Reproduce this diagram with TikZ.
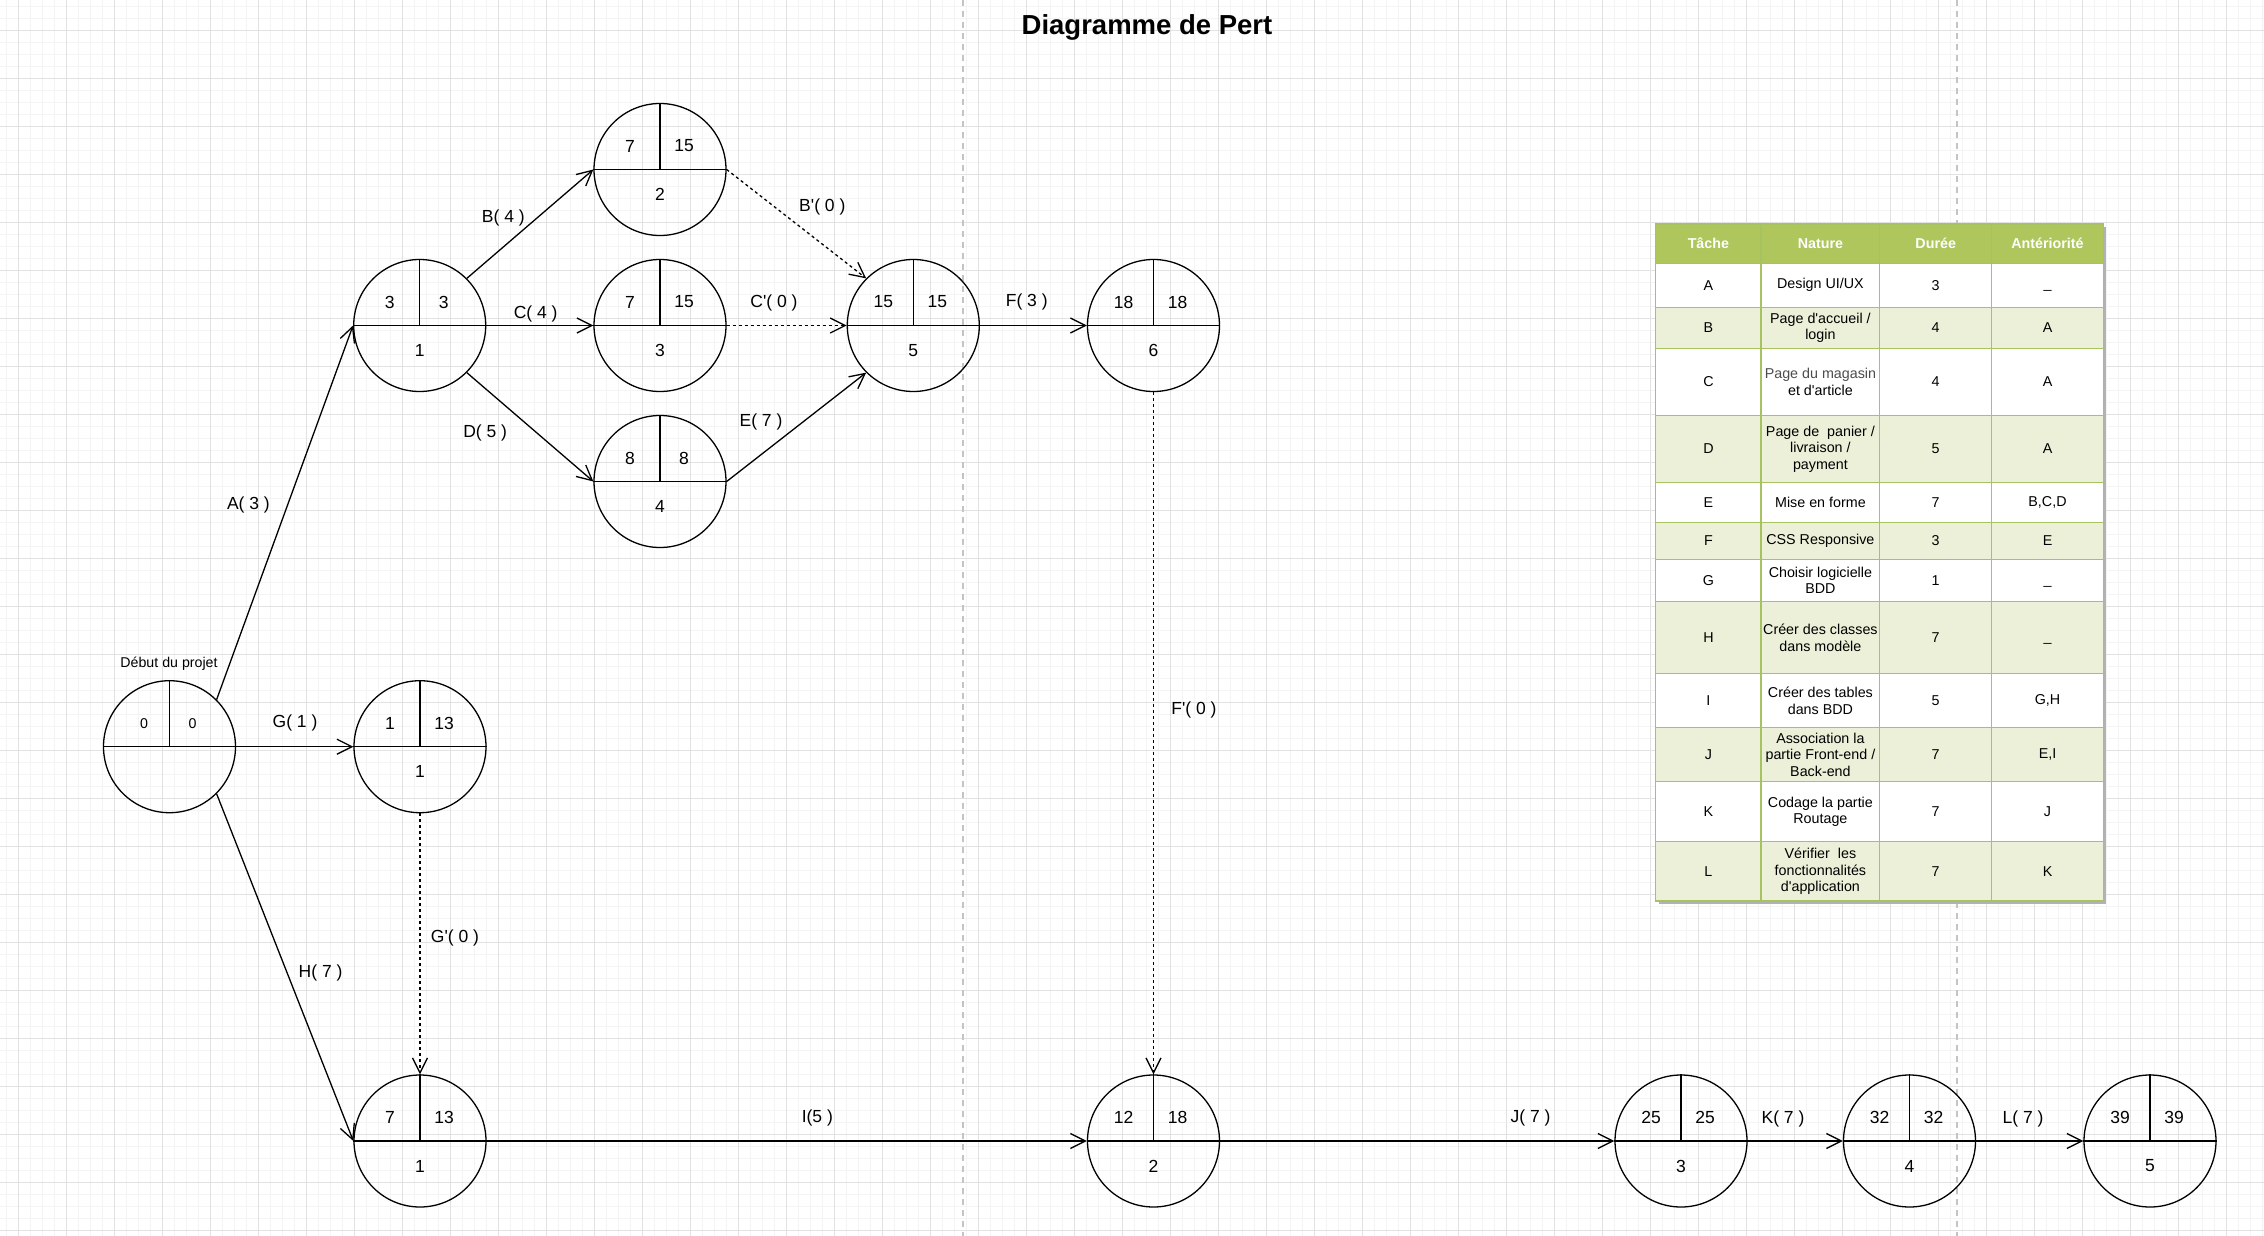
\documentclass[tikz,border=0pt]{standalone}
\usepackage{fontspec}
\setmainfont{Liberation Sans}[Ligatures=TeXOff]
\usetikzlibrary{arrows.meta}

\definecolor{gridmaj}{HTML}{E2E2E2}
\definecolor{gridmin}{HTML}{F4F4F4}
\definecolor{pagebrk}{HTML}{C4C4C4}
\definecolor{tabhead}{HTML}{AEC65C}
\definecolor{tabline}{HTML}{A7C260}
\definecolor{tabrow}{HTML}{ECF0D8}

\begin{document}
\begin{tikzpicture}[x=1pt, y=-1pt,
        event/.style={circle, draw, line width=1.3pt, minimum size=132pt, inner sep=0pt},
        val/.style={font=\fontsize{17.5}{21}\selectfont},
        petit/.style={font=\fontsize{14.2}{17}\selectfont},
        tache/.style={font=\fontsize{17.5}{21}\selectfont},
        arc/.style={line width=1.3pt, -{Straight Barb[length=15pt,width=15pt]}},
        fictif/.style={arc, dash pattern=on 3pt off 3pt},
        cell/.style={font=\fontsize{14.3}{16.3}\selectfont, align=center, inner sep=0pt},
        head/.style={font=\bfseries\fontsize{14.3}{16.3}\selectfont, text=white}]
        
        %\draw [help lines] (0,0) grid (2264,1236);
        
        \useasboundingbox (0,0) rectangle (2264,1236);
        \fill [white] (0,0) rectangle (2264,1236);
        
        %background grid
        \foreach \gx in {6.5,18.5,...,2264} \draw [gridmin, line width=0.8pt] (\gx,0) -- (\gx,1236);
        \foreach \gy in {6.7,18.7,...,1236} \draw [gridmin, line width=0.8pt] (0,\gy) -- (2264,\gy);
        \foreach \gx in {18.5,66.5,...,2264} \draw [gridmaj, line width=1.3pt] (\gx,0) -- (\gx,1236);
        \foreach \gy in {30.7,78.7,...,1236} \draw [gridmaj, line width=1.3pt] (0,\gy) -- (2264,\gy);
        
        %page breaks
        \draw [pagebrk, line width=2pt, dash pattern=on 6pt off 5pt] (963,0) -- (963,1236);
        \draw [pagebrk, line width=2pt, dash pattern=on 6pt off 5pt] (1957,0) -- (1957,1236);
        
        \node (titre) [font=\bfseries\fontsize{27.5}{31}\selectfont] at (1147,27) {Diagramme de Pert};
        
        %the network starts
        
        \node (debut) [event] at (169.5,746.7) {};
        \draw [line width=1.3pt] (debut.west) -- (debut.east);
        \draw [line width=1.3pt] (debut.north) -- (debut.center);
        \node (debut-t) [petit] at (144,723.3) {0};
        \node (debut-r) [petit] at (192.5,723.3) {0};
        \node (debut-l) [petit] at (169,663.3) {Début du projet};
        
        \foreach \nm/\x/\y/\tot/\tard/\num in {e1/419.7/325.5/3/3/1, e2/660/169.5/7/15/2,
            e3/660/325.5/7/15/3, e4/660/481.5/8/8/4, e5/913.3/325.5/15/15/5,
            e6/1153.5/325.5/18/18/6, g1/420/746.7/1/13/1, h1/420/1141/7/13/1,
            h2/1153.5/1141/12/18/2, h3/1681/1141/25/25/3, h4/1909.5/1141/32/32/4,
            h5/2150/1141/39/39/5}
        {
            \node (\nm) [event] at (\x,\y) {};
            \draw [line width=1.3pt] (\nm.west) -- (\nm.east);
            \draw [line width=1.3pt] (\nm.north) -- (\nm.center);
            \node (\nm-t) [val] at (\x-30,\y-23.5) {\tot};
            \node (\nm-r) [val] at (\x+24,\y-23.5) {\tard};
            \node (\nm-b) [val] at (\x,\y+25) {\num};
        }
        
        \draw [arc] (debut.45) -- (e1.west);
        \draw [arc] (e1.45) -- (e2.west);
        \draw [arc] (e1.east) -- (e3.west);
        \draw [arc] (e1.-45) -- (e4.west);
        \draw [fictif] (e2.east) -- (e5.135);
        \draw [fictif] (e3.east) -- (e5.west);
        \draw [arc] (e4.east) -- (e5.-135);
        \draw [arc] (e5.east) -- (e6.west);
        \draw [fictif] (e6.south) -- (h2.north);
        \draw [arc] (debut.east) -- (g1.west);
        \draw [fictif] (g1.south) -- (h1.north);
        \draw [arc] (debut.-45) -- (h1.west);
        \draw [arc] (h1.east) -- (h2.west);
        \draw [arc] (h2.east) -- (h3.west);
        \draw [arc] (h3.east) -- (h4.west);
        \draw [arc] (h4.east) -- (h5.west);
        
        \node (la) [tache] at (248.4,505.4) {A( 3 )};
        \node (lb) [tache] at (503.3,218.3) {B( 4 )};
        \node (lc) [tache] at (535.7,314.3) {C( 4 )};
        \node (ld) [tache] at (485.2,433.2) {D( 5 )};
        \node (le) [tache] at (761,421.7) {E( 7 )};
        \node (lbp) [tache] at (822.3,206.7) {B'( 0 )};
        \node (lcp) [tache] at (774,302.7) {C'( 0 )};
        \node (lf) [tache] at (1026.7,301.8) {F( 3 )};
        \node (lfp) [tache] at (1194,709.8) {F'( 0 )};
        \node (lg) [tache] at (295,723.3) {G( 1 )};
        \node (lgp) [tache] at (455,938.3) {G'( 0 )};
        \node (lh) [tache] at (320.6,973.3) {H( 7 )};
        \node (li) [tache] at (817.3,1117.7) {I(5 )};
        \node (lj) [tache] at (1530.6,1117.7) {J( 7 )};
        \node (lk) [tache] at (1783,1119) {K( 7 )};
        \node (ll) [tache] at (2023,1119) {L( 7 )};
        
        %the table
        \fill [black!30] (1658.7,227) rectangle (2106.3,904);
        \fill [tabhead] (1655.7,224) rectangle (2103.3,263.3);
        \node (h-tache) [head] at (1708.4,243.7) {Tâche};
        \node (h-nature) [head] at (1820.4,243.7) {Nature};
        \node (h-duree) [head] at (1935.7,243.7) {Durée};
        \node (h-ante) [head] at (2047.5,243.7) {Antériorité};
        
        \foreach \ya/\yb/\fond/\tch/\nat/\dur/\ant [count=\r] in {
            263.3/307.3/white/A/{Design UI/UX}/3/{\vphantom{A}\_},
            307.3/348.3/tabrow/B/{Page d'accueil /\\login}/4/A,
            348.3/415.3/white/C/{\color{black!70}Page du magasin\\et d'article}/4/A,
            415.3/482.7/tabrow/D/{Page de~ panier /\\livraison /\\payment}/5/A,
            482.7/522.3/white/E/{Mise en forme}/7/{B,C,D},
            522.3/559.3/tabrow/F/{CSS Responsive}/3/E,
            559.3/601.7/white/G/{Choisir logicielle\\BDD}/1/{\vphantom{A}\_},
            601.7/673.7/tabrow/H/{Créer des classes\\dans modèle}/7/{\vphantom{A}\_},
            673.7/727.7/white/I/{Créer des tables\\dans BDD}/5/{G,H},
            727.7/781.7/tabrow/J/{Association la\\partie Front-end /\\Back-end}/7/{E,I},
            781.7/841.7/white/K/{Codage la partie\\Routage}/7/J,
            841.7/901/tabrow/L/{Vérifier~ les\\fonctionnalités\\d'application}/7/K}
        {
            \fill [\fond] (1655.7,\ya) rectangle (2103.3,\yb);
            \node (c\r-1) [cell] at (1708.4,{(\ya+\yb)/2}) {\tch};
            \node (c\r-2) [cell] at (1820.4,{(\ya+\yb)/2}) {\nat};
            \node (c\r-3) [cell] at (1935.7,{(\ya+\yb)/2}) {\dur};
            \node (c\r-4) [cell] at (2047.5,{(\ya+\yb)/2}) {\ant};
        }
        
        \foreach \ty in {263.3,307.3,348.3,415.3,482.7,522.3,559.3,601.7,673.7,727.7,781.7,841.7}
            \draw [tabline, line width=1.3pt] (1655.7,\ty) -- (2103.3,\ty);
        \foreach \tx in {1761,1879.7,1991.7}
            \draw [tabline, line width=1.3pt] (\tx,224) -- (\tx,901);
        \draw [tabline, line width=1.5pt] (1655.7,224) rectangle (2103.3,901);
        
    \end{tikzpicture}
\end{document}
